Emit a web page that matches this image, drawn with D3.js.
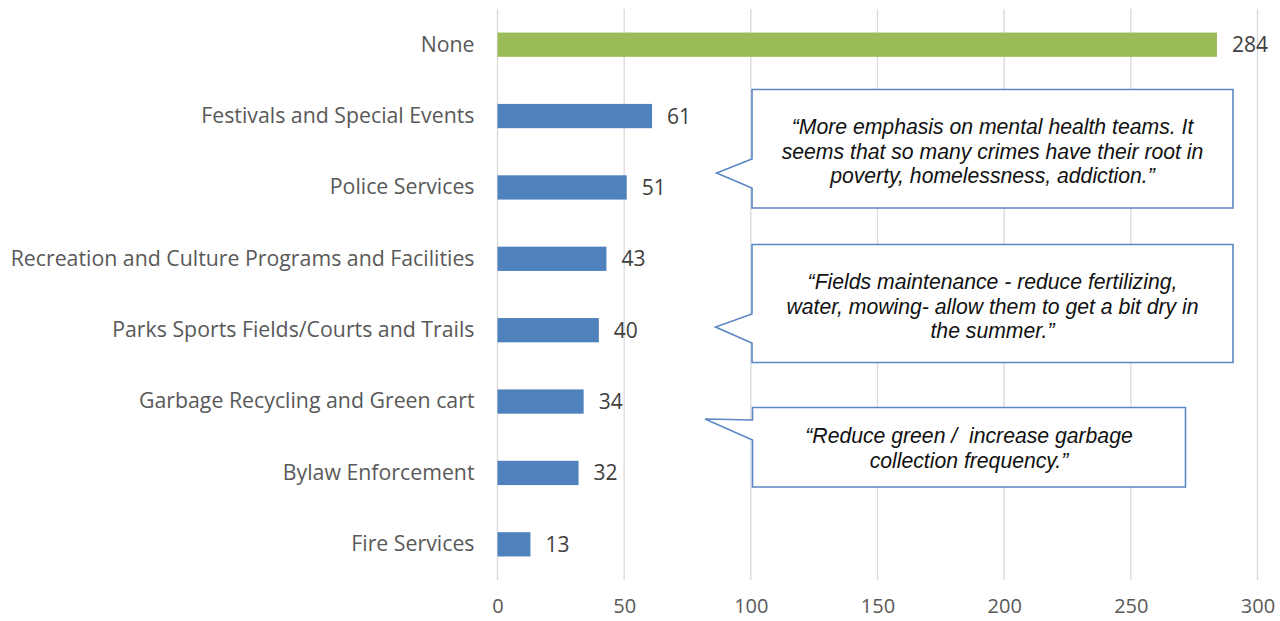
<!DOCTYPE html>
<html>
<head>
<meta charset="utf-8">
<script src="https://cdn.jsdelivr.net/npm/d3@7"></script>
<style>
  html, body { margin: 0; padding: 0; background: #ffffff; }
  svg { display: block; }
</style>
</head>
<body>
<svg id="chart" width="1280" height="621"></svg>
<script>
// Responses by service area
const categories = [
  "None",
  "Festivals and Special Events",
  "Police Services",
  "Recreation and Culture Programs and Facilities",
  "Parks Sports Fields/Courts and Trails",
  "Garbage Recycling and Green cart",
  "Bylaw Enforcement",
  "Fire Services"
];
const counts = [284, 61, 51, 43, 40, 34, 32, 13];
const xTicks = [0, 50, 100, 150, 200, 250, 300];

// Quotes shown in callout boxes
const quotes = [
  ["\u201CMore emphasis on mental health teams. It", "seems that so many crimes have their root in", "poverty, homelessness, addiction.\u201D"],
  ["\u201CFields maintenance - reduce fertilizing,", "water, mowing- allow them to get a bit dry in", "the summer.\u201D"],
  ["\u201CReduce green /  increase garbage", "collection frequency.\u201D"]
];

const svg = d3.select("#chart");
const plot = { left: 497.5, right: 1257.5, top: 9, bottom: 580 };

const x = d3.scaleLinear().domain([0, 300]).range([plot.left, plot.right]);
const y = d3.scaleBand().domain(categories).range([plot.top, plot.bottom])
  .paddingInner(0.66).paddingOuter(0.33);

const labelFont = "'Open Sans', Lato, sans-serif";

// vertical gridlines
svg.append("g").selectAll("line").data(xTicks).join("line")
  .attr("x1", d => x(d)).attr("x2", d => x(d))
  .attr("y1", plot.top).attr("y2", plot.bottom)
  .attr("stroke", "#d9d9d9").attr("stroke-width", 1.3);

// x axis tick labels
const xAxis = d3.axisBottom(x).tickValues(xTicks).tickSize(0).tickPadding(0);
const gx = svg.append("g").attr("transform", `translate(0,${plot.bottom + 19})`).call(xAxis);
gx.select(".domain").remove();
gx.selectAll("text")
  .attr("font-family", labelFont).attr("font-size", 20).attr("fill", "#595959")
  .attr("dy", "0.71em");

// category labels
const yAxis = d3.axisLeft(y).tickSize(0).tickPadding(0);
const gy = svg.append("g").attr("transform", `translate(${plot.left - 23},0)`).call(yAxis);
gy.select(".domain").remove();
gy.selectAll("text")
  .attr("font-family", labelFont).attr("font-size", 21.3).attr("fill", "#595959");

// bars
const rows = categories.map((c, i) => ({ name: c, value: counts[i] }));
svg.append("g").selectAll("rect").data(rows).join("rect")
  .attr("x", x(0))
  .attr("y", d => y(d.name))
  .attr("width", d => x(d.value) - x(0))
  .attr("height", y.bandwidth())
  .attr("fill", (d, i) => i === 0 ? "#9bbb59" : "#4f81bd");

// value labels
svg.append("g").selectAll("text").data(rows).join("text")
  .attr("x", d => x(d.value) + 15)
  .attr("y", d => y(d.name) + y.bandwidth() / 2)
  .attr("dy", "0.36em")
  .attr("font-family", labelFont).attr("font-size", 21).attr("fill", "#404040")
  .text(d => d.value);

// callout boxes with pointers
const callouts = [
  { x0: 752, y0: 89.5, x1: 1233, y1: 208, tip: [716.5, 173], a0: 159, a1: 188, lines: quotes[0], ty: 127 },
  { x0: 752, y0: 244.5, x1: 1233, y1: 362.5, tip: [715.5, 327], a0: 314, a1: 343, lines: quotes[1], ty: 282 },
  { x0: 752.5, y0: 407.5, x1: 1185.5, y1: 487, tip: [705, 419], a0: 420, a1: 440, lines: quotes[2], ty: 436 }
];

const cg = svg.append("g").selectAll("g").data(callouts).join("g");
cg.append("path")
  .attr("d", d => {
    const p = d3.path();
    p.moveTo(d.x0, d.y0);
    p.lineTo(d.x1, d.y0);
    p.lineTo(d.x1, d.y1);
    p.lineTo(d.x0, d.y1);
    p.lineTo(d.x0, d.a1);
    p.lineTo(d.tip[0], d.tip[1]);
    p.lineTo(d.x0, d.a0);
    p.closePath();
    return p.toString();
  })
  .attr("fill", "#ffffff")
  .attr("stroke", "#5b87c5")
  .attr("stroke-width", 1.6)
  .attr("stroke-linejoin", "miter");

cg.each(function(d) {
  const t = d3.select(this).append("text")
    .attr("font-family", "'Liberation Sans', Arial, sans-serif")
    .attr("font-style", "italic")
    .attr("font-size", 21.2)
    .attr("fill", "#111111")
    .attr("text-anchor", "middle")
    .style("white-space", "pre");
  t.selectAll("tspan").data(d.lines).join("tspan")
    .attr("x", (d.x0 + d.x1) / 2)
    .attr("y", (l, i) => d.ty + i * 24.3)
    .attr("dy", "0.35em")
    .text(l => l);
});
</script>
</body>
</html>
